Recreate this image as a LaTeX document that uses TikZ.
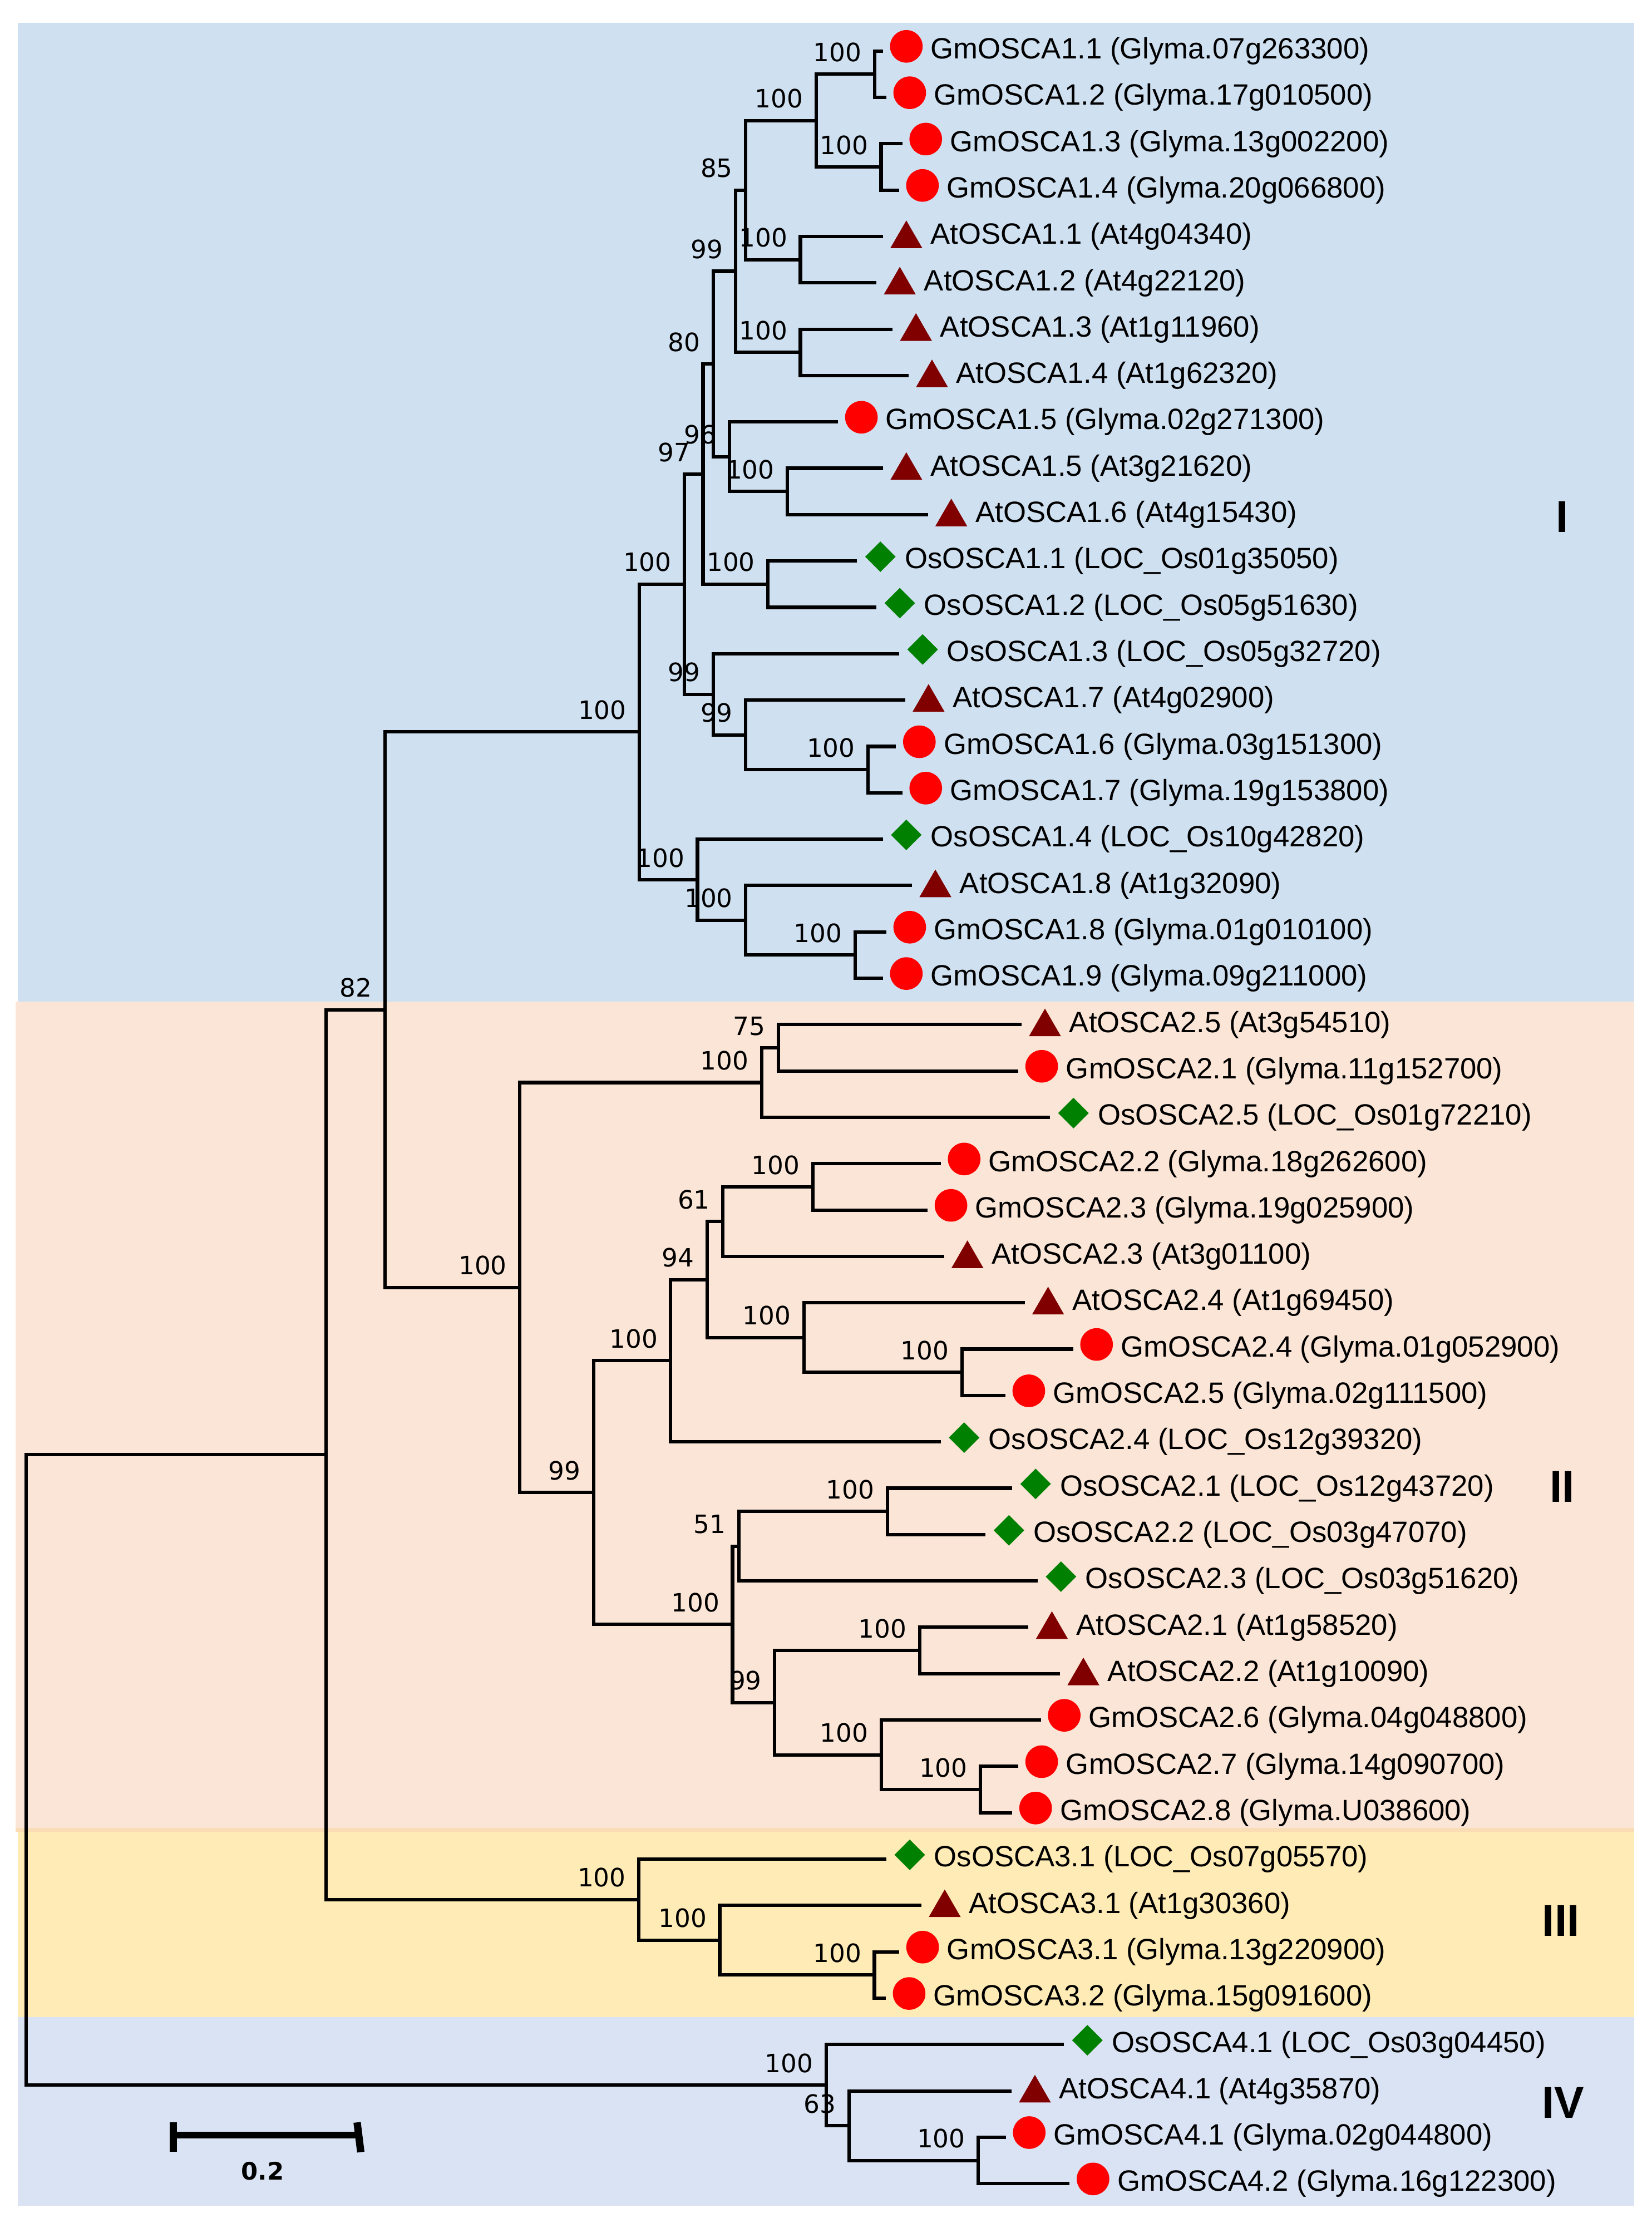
\documentclass[tikz,border=0pt]{standalone}
\usepackage{fontspec}
\setmainfont{Liberation Sans}
\newfontfamily\bootfont{DejaVu Sans}
\usetikzlibrary{shapes.geometric}
\definecolor{bgone}{HTML}{CFE0F1}
\definecolor{bgtwo}{HTML}{FBE5D6}
\definecolor{bgband}{HTML}{FADDB5}
\definecolor{bgthree}{HTML}{FFEBB5}
\definecolor{bgfour}{HTML}{DAE3F3}
\definecolor{gmred}{HTML}{FF0000}
\definecolor{atred}{HTML}{800000}
\definecolor{osgreen}{HTML}{008000}
\tikzset{
	branch/.style = {line width=2.4pt, line join=miter},
	gmdot/.style = {circle, fill=gmred, minimum size=23pt, inner sep=0pt,
		xshift=16.5pt, yshift=3.3pt},% soja
	atri/.style = {regular polygon, regular polygon sides=3, fill=atred,
		minimum size=26pt, inner sep=0pt, xshift=16.5pt, yshift=-1.7pt},% arabette
	osdia/.style = {diamond, fill=osgreen, minimum width=21.7pt,
		minimum height=21.7pt, inner sep=0pt, xshift=16.5pt, yshift=3pt},% riz
	lab/.style = {anchor=west, inner sep=0pt, text height=14.8pt, text depth=0pt,
		font=\fontsize{20.7}{24}\selectfont, xshift=33.5pt, yshift=2pt},
	boot/.style = {anchor=base east, inner sep=0pt,
		font=\bootfont\fontsize{17.8}{20}\selectfont, xshift=-9pt, yshift=9pt},
	grp/.style = {inner sep=0pt, font=\bfseries\fontsize{31.5}{34}\selectfont}
}
\begin{document}
\begin{tikzpicture}[x=1pt,y=-1pt]
\useasboundingbox (0,0) rectangle (1165,1568);
% clade backgrounds
\fill[bgone] (12.5,16.1) rectangle (1152.7,706.5);
\fill[bgtwo] (10.9,706.5) rectangle (1152.7,1289.3);
\fill[bgband] (10.9,1289.3) rectangle (1152.7,1292);
\fill[bgthree] (12.5,1292) rectangle (1152.7,1422.7);
\fill[bgfour] (12.5,1422.7) rectangle (1152.7,1555.7);

% leaves
\coordinate (l1) at (622.8,36); \node[gmdot] (s1) at (l1) {}; \node[lab] (t1) at (l1) {GmOSCA1.1 (Glyma.07g263300)};
\coordinate (l2) at (625.2,68.7); \node[gmdot] (s2) at (l2) {}; \node[lab] (t2) at (l2) {GmOSCA1.2 (Glyma.17g010500)};
\coordinate (l3) at (636.5,101.4); \node[gmdot] (s3) at (l3) {}; \node[lab] (t3) at (l3) {GmOSCA1.3 (Glyma.13g002200)};
\coordinate (l4) at (634.2,134.1); \node[gmdot] (s4) at (l4) {}; \node[lab] (t4) at (l4) {GmOSCA1.4 (Glyma.20g066800)};
\coordinate (l5) at (622.8,166.8); \node[atri] (s5) at (l5) {}; \node[lab] (t5) at (l5) {AtOSCA1.1 (At4g04340)};
\coordinate (l6) at (618.2,199.5); \node[atri] (s6) at (l6) {}; \node[lab] (t6) at (l6) {AtOSCA1.2 (At4g22120)};
\coordinate (l7) at (629.6,232.2); \node[atri] (s7) at (l7) {}; \node[lab] (t7) at (l7) {AtOSCA1.3 (At1g11960)};
\coordinate (l8) at (640.9,264.9); \node[atri] (s8) at (l8) {}; \node[lab] (t8) at (l8) {AtOSCA1.4 (At1g62320)};
\coordinate (l9) at (591.1,297.6); \node[gmdot] (s9) at (l9) {}; \node[lab] (t9) at (l9) {GmOSCA1.5 (Glyma.02g271300)};
\coordinate (l10) at (622.8,330.3); \node[atri] (s10) at (l10) {}; \node[lab] (t10) at (l10) {AtOSCA1.5 (At3g21620)};
\coordinate (l11) at (654.5,363); \node[atri] (s11) at (l11) {}; \node[lab] (t11) at (l11) {AtOSCA1.6 (At4g15430)};
\coordinate (l12) at (604.5,395.7); \node[osdia] (s12) at (l12) {}; \node[lab] (t12) at (l12) {OsOSCA1.1 (LOC\_Os01g35050)};
\coordinate (l13) at (618.2,428.4); \node[osdia] (s13) at (l13) {}; \node[lab] (t13) at (l13) {OsOSCA1.2 (LOC\_Os05g51630)};
\coordinate (l14) at (634.3,461.1); \node[osdia] (s14) at (l14) {}; \node[lab] (t14) at (l14) {OsOSCA1.3 (LOC\_Os05g32720)};
\coordinate (l15) at (638.5,493.8); \node[atri] (s15) at (l15) {}; \node[lab] (t15) at (l15) {AtOSCA1.7 (At4g02900)};
\coordinate (l16) at (632,526.5); \node[gmdot] (s16) at (l16) {}; \node[lab] (t16) at (l16) {GmOSCA1.6 (Glyma.03g151300)};
\coordinate (l17) at (636.5,559.2); \node[gmdot] (s17) at (l17) {}; \node[lab] (t17) at (l17) {GmOSCA1.7 (Glyma.19g153800)};
\coordinate (l18) at (622.8,591.9); \node[osdia] (s18) at (l18) {}; \node[lab] (t18) at (l18) {OsOSCA1.4 (LOC\_Os10g42820)};
\coordinate (l19) at (643.3,624.6); \node[atri] (s19) at (l19) {}; \node[lab] (t19) at (l19) {AtOSCA1.8 (At1g32090)};
\coordinate (l20) at (625.2,657.3); \node[gmdot] (s20) at (l20) {}; \node[lab] (t20) at (l20) {GmOSCA1.8 (Glyma.01g010100)};
\coordinate (l21) at (622.8,690); \node[gmdot] (s21) at (l21) {}; \node[lab] (t21) at (l21) {GmOSCA1.9 (Glyma.09g211000)};
\coordinate (l22) at (720.6,722.7); \node[atri] (s22) at (l22) {}; \node[lab] (t22) at (l22) {AtOSCA2.5 (At3g54510)};
\coordinate (l23) at (718.3,755.4); \node[gmdot] (s23) at (l23) {}; \node[lab] (t23) at (l23) {GmOSCA2.1 (Glyma.11g152700)};
\coordinate (l24) at (740.7,788.1); \node[osdia] (s24) at (l24) {}; \node[lab] (t24) at (l24) {OsOSCA2.5 (LOC\_Os01g72210)};
\coordinate (l25) at (663.6,820.8); \node[gmdot] (s25) at (l25) {}; \node[lab] (t25) at (l25) {GmOSCA2.2 (Glyma.18g262600)};
\coordinate (l26) at (654.3,853.5); \node[gmdot] (s26) at (l26) {}; \node[lab] (t26) at (l26) {GmOSCA2.3 (Glyma.19g025900)};
\coordinate (l27) at (665.9,886.2); \node[atri] (s27) at (l27) {}; \node[lab] (t27) at (l27) {AtOSCA2.3 (At3g01100)};
\coordinate (l28) at (722.8,918.9); \node[atri] (s28) at (l28) {}; \node[lab] (t28) at (l28) {AtOSCA2.4 (At1g69450)};
\coordinate (l29) at (757,951.6); \node[gmdot] (s29) at (l29) {}; \node[lab] (t29) at (l29) {GmOSCA2.4 (Glyma.01g052900)};
\coordinate (l30) at (709.2,984.3); \node[gmdot] (s30) at (l30) {}; \node[lab] (t30) at (l30) {GmOSCA2.5 (Glyma.02g111500)};
\coordinate (l31) at (663.6,1017); \node[osdia] (s31) at (l31) {}; \node[lab] (t31) at (l31) {OsOSCA2.4 (LOC\_Os12g39320)};
\coordinate (l32) at (714,1049.7); \node[osdia] (s32) at (l32) {}; \node[lab] (t32) at (l32) {OsOSCA2.1 (LOC\_Os12g43720)};
\coordinate (l33) at (695.2,1082.4); \node[osdia] (s33) at (l33) {}; \node[lab] (t33) at (l33) {OsOSCA2.2 (LOC\_Os03g47070)};
\coordinate (l34) at (731.9,1115.1); \node[osdia] (s34) at (l34) {}; \node[lab] (t34) at (l34) {OsOSCA2.3 (LOC\_Os03g51620)};
\coordinate (l35) at (725.5,1147.8); \node[atri] (s35) at (l35) {}; \node[lab] (t35) at (l35) {AtOSCA2.1 (At1g58520)};
\coordinate (l36) at (747.7,1180.5); \node[atri] (s36) at (l36) {}; \node[lab] (t36) at (l36) {AtOSCA2.2 (At1g10090)};
\coordinate (l37) at (734.2,1213.2); \node[gmdot] (s37) at (l37) {}; \node[lab] (t37) at (l37) {GmOSCA2.6 (Glyma.04g048800)};
\coordinate (l38) at (718.3,1245.9); \node[gmdot] (s38) at (l38) {}; \node[lab] (t38) at (l38) {GmOSCA2.7 (Glyma.14g090700)};
\coordinate (l39) at (714,1278.6); \node[gmdot] (s39) at (l39) {}; \node[lab] (t39) at (l39) {GmOSCA2.8 (Glyma.U038600)};
\coordinate (l40) at (625.2,1311.3); \node[osdia] (s40) at (l40) {}; \node[lab] (t40) at (l40) {OsOSCA3.1 (LOC\_Os07g05570)};
\coordinate (l41) at (649.9,1344); \node[atri] (s41) at (l41) {}; \node[lab] (t41) at (l41) {AtOSCA3.1 (At1g30360)};
\coordinate (l42) at (634.3,1376.7); \node[gmdot] (s42) at (l42) {}; \node[lab] (t42) at (l42) {GmOSCA3.1 (Glyma.13g220900)};
\coordinate (l43) at (624.8,1409.4); \node[gmdot] (s43) at (l43) {}; \node[lab] (t43) at (l43) {GmOSCA3.2 (Glyma.15g091600)};
\coordinate (l44) at (750.5,1442.1); \node[osdia] (s44) at (l44) {}; \node[lab] (t44) at (l44) {OsOSCA4.1 (LOC\_Os03g04450)};
\coordinate (l45) at (713.5,1474.8); \node[atri] (s45) at (l45) {}; \node[lab] (t45) at (l45) {AtOSCA4.1 (At4g35870)};
\coordinate (l46) at (709.5,1507.5); \node[gmdot] (s46) at (l46) {}; \node[lab] (t46) at (l46) {GmOSCA4.1 (Glyma.02g044800)};
\coordinate (l47) at (754.5,1540.2); \node[gmdot] (s47) at (l47) {}; \node[lab] (t47) at (l47) {GmOSCA4.2 (Glyma.16g122300)};

% inner nodes, clade I
\coordinate (a12) at (616.9,52.35);
\coordinate (a34) at (621.5,117.75);
\coordinate (a14) at (575.7,85.05);
\coordinate (a56) at (564.6,183.15);
\coordinate (a16) at (526,134.1);
\coordinate (a78) at (564.6,248.55);
\coordinate (a18) at (519,191.33);
\coordinate (a1011) at (555.4,346.65);
\coordinate (a911) at (514.6,322.13);
\coordinate (a111) at (503.1,256.73);
\coordinate (a1213) at (541.7,412.05);
\coordinate (a113) at (495.9,334.39);
\coordinate (a1617) at (612.3,542.85);
\coordinate (a1517) at (526,518.33);
\coordinate (a1417) at (503.1,489.71);
\coordinate (a117) at (482.8,412.05);
\coordinate (a2021) at (603.2,673.65);
\coordinate (a1921) at (526,649.13);
\coordinate (a1821) at (492,620.51);
\coordinate (gI) at (451,516.28);
% clade II
\coordinate (b2223) at (549,739.05);
\coordinate (b2224) at (537.2,763.58);
\coordinate (b2526) at (573.4,837.15);
\coordinate (b2527) at (509.9,861.68);
\coordinate (b2930) at (678.5,967.95);
\coordinate (b2830) at (567,943.43);
\coordinate (b2530) at (498.7,902.55);
\coordinate (b2531) at (473.1,959.78);
\coordinate (b3233) at (625.9,1066.05);
\coordinate (b3234) at (521.2,1090.58);
\coordinate (b3536) at (648.7,1164.15);
\coordinate (b3839) at (691.6,1262.25);
\coordinate (b3739) at (621.6,1237.73);
\coordinate (b3539) at (546.4,1200.94);
\coordinate (b3239) at (516.7,1145.76);
\coordinate (b2539) at (418.7,1052.77);
\coordinate (gII) at (366.7,908.17);
\coordinate (r82) at (271.6,712.2);
% clades III, IV and root
\coordinate (c4243) at (616.8,1393.05);
\coordinate (c4143) at (507.7,1368.5);
\coordinate (gIII) at (450.6,1339.9);
\coordinate (r3) at (230,1026.05);
\coordinate (d4647) at (690,1523.85);
\coordinate (d4547) at (598.8,1499.3);
\coordinate (gIV) at (582.8,1470.7);
\coordinate (root) at (18.5,1248.4);

% branches
\draw[branch] (l1) -| (a12) |- (l2);
\draw[branch] (l3) -| (a34) |- (l4);
\draw[branch] (a12) -| (a14) |- (a34);
\draw[branch] (l5) -| (a56) |- (l6);
\draw[branch] (a14) -| (a16) |- (a56);
\draw[branch] (l7) -| (a78) |- (l8);
\draw[branch] (a16) -| (a18) |- (a78);
\draw[branch] (l10) -| (a1011) |- (l11);
\draw[branch] (l9) -| (a911) |- (a1011);
\draw[branch] (a18) -| (a111) |- (a911);
\draw[branch] (l12) -| (a1213) |- (l13);
\draw[branch] (a111) -| (a113) |- (a1213);
\draw[branch] (l16) -| (a1617) |- (l17);
\draw[branch] (l15) -| (a1517) |- (a1617);
\draw[branch] (l14) -| (a1417) |- (a1517);
\draw[branch] (a113) -| (a117) |- (a1417);
\draw[branch] (l20) -| (a2021) |- (l21);
\draw[branch] (l19) -| (a1921) |- (a2021);
\draw[branch] (l18) -| (a1821) |- (a1921);
\draw[branch] (a117) -| (gI) |- (a1821);
\draw[branch] (l22) -| (b2223) |- (l23);
\draw[branch] (b2223) -| (b2224) |- (l24);
\draw[branch] (l25) -| (b2526) |- (l26);
\draw[branch] (b2526) -| (b2527) |- (l27);
\draw[branch] (l29) -| (b2930) |- (l30);
\draw[branch] (l28) -| (b2830) |- (b2930);
\draw[branch] (b2527) -| (b2530) |- (b2830);
\draw[branch] (b2530) -| (b2531) |- (l31);
\draw[branch] (l32) -| (b3233) |- (l33);
\draw[branch] (b3233) -| (b3234) |- (l34);
\draw[branch] (l35) -| (b3536) |- (l36);
\draw[branch] (l38) -| (b3839) |- (l39);
\draw[branch] (l37) -| (b3739) |- (b3839);
\draw[branch] (b3536) -| (b3539) |- (b3739);
\draw[branch] (b3234) -| (b3239) |- (b3539);
\draw[branch] (b2531) -| (b2539) |- (b3239);
\draw[branch] (b2224) -| (gII) |- (b2539);
\draw[branch] (gI) -| (r82) |- (gII);
\draw[branch] (l42) -| (c4243) |- (l43);
\draw[branch] (l41) -| (c4143) |- (c4243);
\draw[branch] (l40) -| (gIII) |- (c4143);
\draw[branch] (r82) -| (r3) |- (gIII);
\draw[branch] (l46) -| (d4647) |- (l47);
\draw[branch] (l45) -| (d4547) |- (d4647);
\draw[branch] (l44) -| (gIV) |- (d4547);
\draw[branch] (r3) -| (root) |- (gIV);

% bootstrap values
\node[boot] (v-a12) at (a12) {100};
\node[boot] (v-a34) at (a34) {100};
\node[boot] (v-a14) at (a14) {100};
\node[boot] (v-a56) at (a56) {100};
\node[boot] (v-a16) at (a16) {85};
\node[boot] (v-a78) at (a78) {100};
\node[boot] (v-a18) at (a18) {99};
\node[boot] (v-a1011) at (a1011) {100};
\node[boot] (v-a911) at (a911) {96};
\node[boot] (v-a111) at (a111) {80};
\node[boot] (v-a1213) at (a1213) {100};
\node[boot] (v-a113) at (a113) {97};
\node[boot] (v-a1617) at (a1617) {100};
\node[boot] (v-a1517) at (a1517) {99};
\node[boot] (v-a1417) at (a1417) {99};
\node[boot] (v-a117) at (a117) {100};
\node[boot] (v-a2021) at (a2021) {100};
\node[boot] (v-a1921) at (a1921) {100};
\node[boot] (v-a1821) at (a1821) {100};
\node[boot] (v-gI) at (gI) {100};
\node[boot] (v-b2223) at (b2223) {75};
\node[boot] (v-b2224) at (b2224) {100};
\node[boot] (v-b2526) at (b2526) {100};
\node[boot] (v-b2527) at (b2527) {61};
\node[boot] (v-b2930) at (b2930) {100};
\node[boot] (v-b2830) at (b2830) {100};
\node[boot] (v-b2530) at (b2530) {94};
\node[boot] (v-b2531) at (b2531) {100};
\node[boot] (v-b3233) at (b3233) {100};
\node[boot] (v-b3234) at (b3234) {51};
\node[boot] (v-b3536) at (b3536) {100};
\node[boot] (v-b3839) at (b3839) {100};
\node[boot] (v-b3739) at (b3739) {100};
\node[boot] (v-b3539) at (b3539) {99};
\node[boot] (v-b3239) at (b3239) {100};
\node[boot] (v-b2539) at (b2539) {99};
\node[boot] (v-gII) at (gII) {100};
\node[boot] (v-r82) at (r82) {82};
\node[boot] (v-c4243) at (c4243) {100};
\node[boot] (v-c4143) at (c4143) {100};
\node[boot] (v-gIII) at (gIII) {100};
\node[boot] (v-d4647) at (d4647) {100};
\node[boot] (v-d4547) at (d4547) {63};
\node[boot] (v-gIV) at (gIV) {100};

% clade names
\node[grp] (n1) at (1102,364.6) {I};
\node[grp] (n2) at (1102,1048.5) {II};
\node[grp] (n3) at (1101,1355) {III};
\node[grp] (n4) at (1102.5,1483) {IV};

% scale bar
\coordinate (sb1) at (122.3,1506);
\coordinate (sb2) at (253.2,1506);
\draw[line width=4.6pt] (sb1) -- (sb2);
\draw[line width=5.2pt] ([yshift=9.2pt]sb1) -- ([yshift=-11.8pt]sb1);
\draw[line width=5.2pt] ([xshift=-1.3pt,yshift=9pt]sb2) -- ([xshift=1.3pt,yshift=-12pt]sb2);
\node[anchor=base, inner sep=0pt, font=\bootfont\bfseries\fontsize{17}{20}\selectfont] (sbl) at (185.3,1537.4) {0.2};
\end{tikzpicture}
\end{document}
